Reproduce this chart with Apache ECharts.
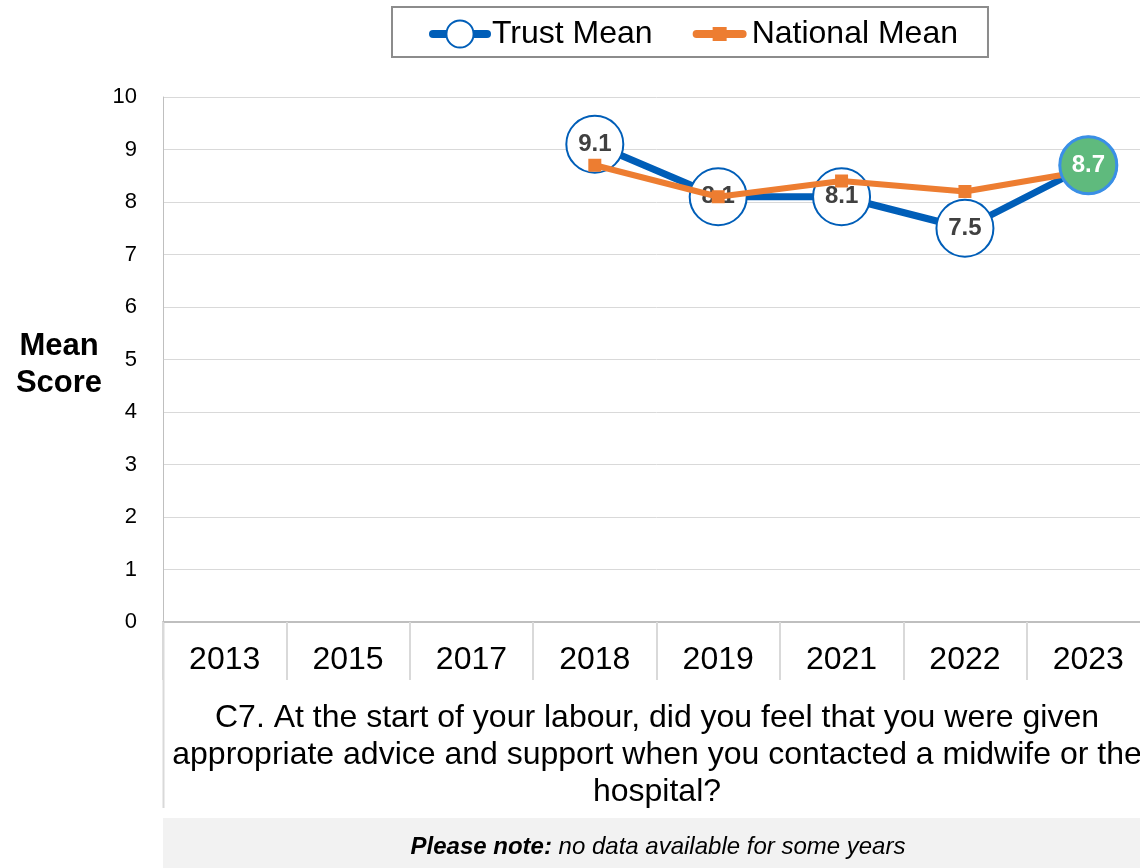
<!DOCTYPE html>
<html>
<head>
<meta charset="utf-8">
<script src="https://cdn.jsdelivr.net/npm/echarts@6/dist/echarts.min.js"></script>
<style>
html,body{margin:0;padding:0;background:#fff;overflow:hidden;width:1140px;height:868px;}
#chart{width:1150px;height:868px;}
</style>
</head>
<body>
<div id="chart"></div>
<script>
const categories = ['2013','2015','2017','2018','2019','2021','2022','2023'];
const trustMean = [null, null, null, 9.1, 8.1, 8.1, 7.5, 8.7];
const nationalMean = [null, null, null, 8.7, 8.1, 8.4, 8.2, 8.6];
const yTicks = [0,1,2,3,4,5,6,7,8,9,10];
const questionText = 'C7. At the start of your labour, did you feel that you were given\nappropriate advice and support when you contacted a midwife or the\nhospital?';

// highlight latest trust value
const highlight = trustMean.map((v, i) => i === trustMean.length - 1 ? v : null);

const FONT = 'Arial, "Liberation Sans", sans-serif';
const chart = echarts.init(document.getElementById('chart'), null, {renderer: 'canvas'});

chart.setOption({
  animation: false,
  textStyle: {fontFamily: FONT},
  legend: {
    data: [
      {name: 'Trust Mean'},
      {name: 'National Mean', icon: 'path://M4,13 L50,13 A4,4 0 0 1 50,21 L4,21 A4,4 0 0 1 4,13 Z M20,10 L34,10 L34,24 L20,24 Z'}
    ],
    left: 392, top: 7,
    borderColor: '#8c8c8c', borderWidth: 2,
    padding: [11, 30, 7, 37],
    itemGap: 40,
    itemWidth: 54, itemHeight: 34,
    lineStyle: {width: 8, cap: 'round'},
    textStyle: {fontSize: 32, color: '#000', fontFamily: FONT}
  },
  grid: {left: 163, top: 97, right: 0, bottom: 246, containLabel: false},
  xAxis: {
    type: 'category',
    data: categories,
    boundaryGap: true,
    axisLine: {lineStyle: {color: '#bfbfbf', width: 2}},
    axisTick: {show: true, interval: 0, length: 58, lineStyle: {color: '#d9d9d9', width: 2}},
    axisLabel: {fontSize: 32, color: '#000', margin: 22, interval: 0, fontFamily: FONT}
  },
  yAxis: {
    type: 'value',
    min: 0, max: 10, interval: 1,
    axisLine: {show: true, lineStyle: {color: '#bfbfbf', width: 1}},
    axisTick: {show: false},
    splitLine: {lineStyle: {color: '#d9d9d9', width: 1}},
    axisLabel: {fontSize: 22, color: '#000', margin: 26, fontFamily: FONT,
      formatter: v => yTicks.includes(v) ? String(v) : ''}
  },
  series: [
    {
      name: 'Trust Mean',
      type: 'line',
      data: trustMean,
      z: 2,
      symbol: 'circle',
      symbolSize: 57,
      lineStyle: {color: '#005EB8', width: 7},
      itemStyle: {color: '#ffffff', borderColor: '#005EB8', borderWidth: 2},
      label: {show: true, position: 'inside', fontSize: 24, fontWeight: 'bold', color: '#404040', fontFamily: FONT},
      emphasis: {disabled: true}
    },
    {
      name: 'National Mean',
      type: 'line',
      data: nationalMean,
      z: 3,
      symbol: 'rect',
      symbolSize: 13,
      lineStyle: {color: '#ED7D31', width: 6},
      itemStyle: {color: '#ED7D31'},
      emphasis: {disabled: true}
    },
    {
      name: 'Latest',
      type: 'line',
      data: highlight,
      z: 4,
      symbol: 'circle',
      symbolSize: 57,
      lineStyle: {width: 0},
      itemStyle: {color: '#5FBA7D', borderColor: '#3A8FE6', borderWidth: 3},
      label: {show: true, position: 'inside', fontSize: 24, fontWeight: 'bold', color: '#ffffff', fontFamily: FONT},
      emphasis: {disabled: true}
    }
  ],
  graphic: [
    {type: 'line', shape: {x1: 163.5, y1: 622, x2: 163.5, y2: 808}, style: {stroke: '#d9d9d9', lineWidth: 2}},
    {type: 'text', x: 59, y: 365, style: {text: 'Mean\nScore', font: 'bold 31px ' + FONT, fill: '#000', textAlign: 'center', textVerticalAlign: 'middle', lineHeight: 37}},
    {type: 'text', x: 657, y: 755, style: {text: questionText, font: '32px ' + FONT, fill: '#000', textAlign: 'center', textVerticalAlign: 'middle', lineHeight: 37}},
    {type: 'rect', shape: {x: 163, y: 818, width: 987, height: 50}, style: {fill: '#f2f2f2'}},
    {type: 'text', x: 658, y: 847, style: {
      text: '{b|Please note: }{i|no data available for some years}',
      textAlign: 'center', textVerticalAlign: 'middle',
      rich: {
        b: {font: 'italic bold 24px ' + FONT, fill: '#000'},
        i: {font: 'italic 24px ' + FONT, fill: '#000'}
      }
    }}
  ]
});
</script>
</body>
</html>
